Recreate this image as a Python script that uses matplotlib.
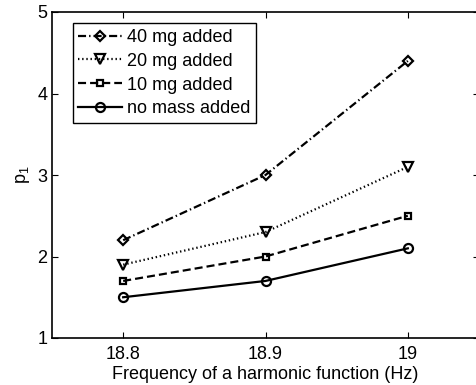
import matplotlib
matplotlib.use("Agg")
import matplotlib.pyplot as plt

plt.rcParams["font.family"] = ["Liberation Sans", "DejaVu Sans"]
plt.rcParams["mathtext.default"] = "regular"
plt.rcParams["lines.scale_dashes"] = False

freq = [18.8, 18.9, 19.0]
p1_40mg = [2.2, 3.0, 4.4]
p1_20mg = [1.9, 2.3, 3.1]
p1_10mg = [1.7, 2.0, 2.5]
p1_none = [1.5, 1.7, 2.1]

# MATLAB-like dash patterns (points)
series = [
    (p1_40mg, (0, (5.8, 2.2, 1.0, 2.2)), "D", 5.5, "40 mg added"),
    (p1_20mg, (0, (1.0, 2.0)), "v", 7.5, "20 mg added"),
    (p1_10mg, (0, (5.8, 2.9)), "s", 5, "10 mg added"),
    (p1_none, "-", "o", 6.5, "no mass added"),
]

fig = plt.figure(figsize=(4.76, 3.85), dpi=100)
# axes runs a little past the right edge of the figure (cropped original)
ax = fig.add_axes([52 / 476, 47 / 385, 427 / 476, 326 / 385])

for values, ls, marker, ms, label in series:
    ax.plot(freq, values, color="black", linestyle=ls, linewidth=1.6,
            marker=marker, markersize=ms, markerfacecolor="none",
            markeredgewidth=1.6, label=label)

ax.set_xlim(18.75, 19.05)
ax.set_ylim(1, 5)
ax.set_xticks(freq)
ax.set_xticklabels(["18.8", "18.9", "19"])
ax.set_yticks([1, 2, 3, 4, 5])
ax.tick_params(axis="both", direction="in", top=True, right=True,
               labelsize=13, length=4)
ax.tick_params(axis="x", pad=6)
for spine in ax.spines.values():
    spine.set_linewidth(1.2)

ax.set_xlabel("Frequency of a harmonic function (Hz)", fontsize=13, labelpad=2)
ax.set_ylabel("p$_1$", fontsize=13, labelpad=4)

leg = ax.legend(loc="upper left", bbox_to_anchor=(0.049, 0.965), fontsize=13,
                handlelength=2.4, handletextpad=0.3, borderpad=0.3,
                labelspacing=0.38, borderaxespad=0, fancybox=False,
                framealpha=1, edgecolor="black")
leg.get_frame().set_linewidth(1.0)

fig.savefig("out.png", dpi=100)
